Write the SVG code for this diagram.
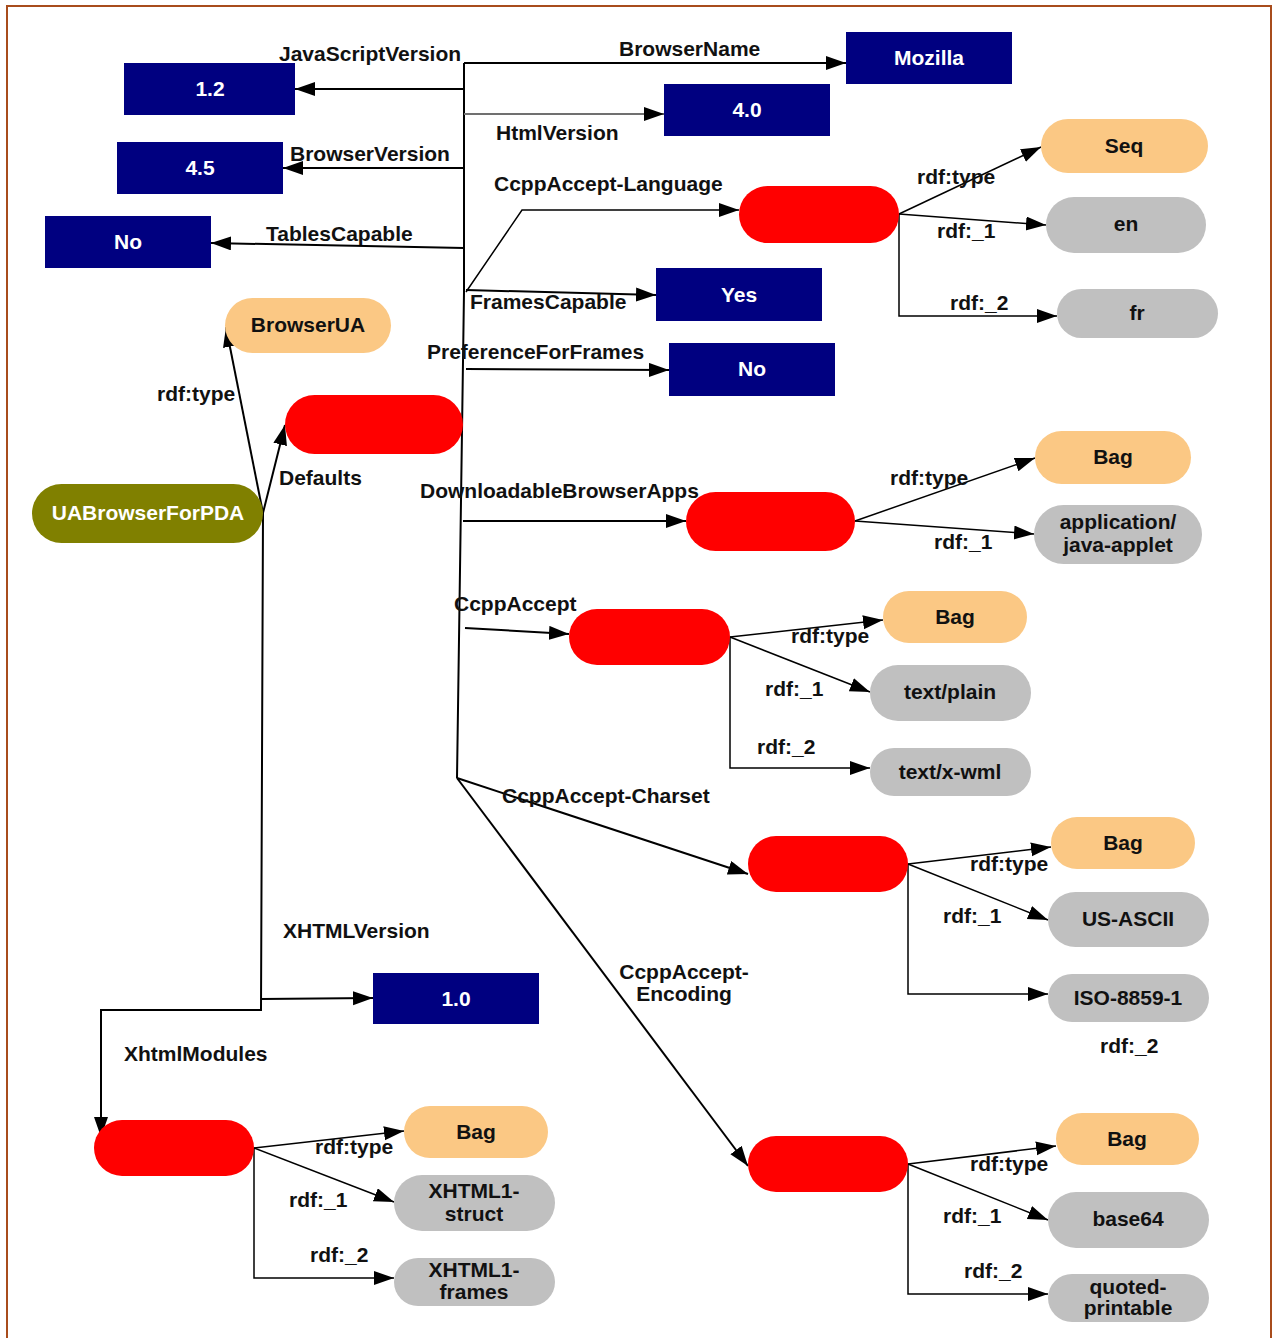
<svg xmlns="http://www.w3.org/2000/svg" width="1279" height="1338" viewBox="0 0 1279 1338">
<style>
text{font-family:"Liberation Sans",Arial,sans-serif;font-weight:bold;font-size:21px;fill:#111}
.w{fill:#fff}
.c{text-anchor:middle}
.lit rect{fill:#000080}
.blank rect{fill:#ff0000}
.typ rect{fill:#fbc884}
.val rect{fill:#c0c0c0}
.res rect{fill:#808000}
#connectors path{fill:none;stroke:#000;stroke-width:1.5}
#connectors path.t{stroke-width:2}
#connectors path.g{stroke:#707070;stroke-width:2}
</style>
<defs>
<marker id="a" markerUnits="userSpaceOnUse" markerWidth="22" markerHeight="16" refX="20" refY="7" orient="auto">
<path d="M0,0 L20,7 L0,14 z" fill="#000"/>
</marker>
</defs>
<rect x="7" y="6" width="1264" height="1345" fill="#fff" stroke="#a84c1c" stroke-width="2"/>

<g id="connectors">
<path class="t" d="M464,63 L464,292 L457,778"/>
<path class="t" d="M464,63 H846" marker-end="url(#a)"/>
<path class="t" d="M464,89 H295" marker-end="url(#a)"/>
<path class="g" d="M464,114 H664" marker-end="url(#a)"/>
<path class="t" d="M464,168 H283" marker-end="url(#a)"/>
<path class="t" d="M464,248 L211,243" marker-end="url(#a)"/>
<path d="M466,292 L522,210 H739" marker-end="url(#a)"/>
<path class="t" d="M466,290 L656,295" marker-end="url(#a)"/>
<path class="t" d="M466,369 L669,370" marker-end="url(#a)"/>
<path class="t" d="M463,521 H686" marker-end="url(#a)"/>
<path class="t" d="M465,628 L569,634" marker-end="url(#a)"/>
<path class="t" d="M457,778 L748,874" marker-end="url(#a)"/>
<path class="t" d="M457,778 L748,1166" marker-end="url(#a)"/>
<path class="t" d="M263,513 L285,425" marker-end="url(#a)"/>
<path class="t" d="M263,513 L226,327" marker-end="url(#a)"/>
<path class="t" d="M263,513 L261,1010 H101 V1137" marker-end="url(#a)"/>
<path class="t" d="M261,999 L373,998" marker-end="url(#a)"/>

<path d="M899,214 L1041,147" marker-end="url(#a)"/>
<path d="M899,214 L1046,225" marker-end="url(#a)"/>
<path d="M899,214 V316 H1057" marker-end="url(#a)"/>

<path d="M855,521 L1035,458" marker-end="url(#a)"/>
<path d="M855,521 L1034,534" marker-end="url(#a)"/>

<path d="M730,637 L883,620" marker-end="url(#a)"/>
<path d="M730,637 L870,692" marker-end="url(#a)"/>
<path d="M730,637 V768 H870" marker-end="url(#a)"/>

<path d="M908,864 L1051,847" marker-end="url(#a)"/>
<path d="M908,864 L1048,920" marker-end="url(#a)"/>
<path d="M908,864 V994 H1048" marker-end="url(#a)"/>

<path d="M908,1164 L1056,1146" marker-end="url(#a)"/>
<path d="M908,1164 L1048,1220" marker-end="url(#a)"/>
<path d="M908,1164 V1294 H1048" marker-end="url(#a)"/>

<path d="M254,1148 L404,1131" marker-end="url(#a)"/>
<path d="M254,1148 L394,1202" marker-end="url(#a)"/>
<path d="M254,1148 V1278 H394" marker-end="url(#a)"/>
</g>

<g id="edge-labels">
<text x="279" y="61">JavaScriptVersion</text>
<text x="619" y="56">BrowserName</text>
<text x="496" y="140">HtmlVersion</text>
<text x="290" y="161">BrowserVersion</text>
<text x="266" y="241">TablesCapable</text>
<text x="494" y="191">CcppAccept-Language</text>
<text x="470" y="309">FramesCapable</text>
<text x="427" y="359">PreferenceForFrames</text>
<text x="157" y="401">rdf:type</text>
<text x="279" y="485">Defaults</text>
<text x="420" y="498">DownloadableBrowserApps</text>
<text x="454" y="611">CcppAccept</text>
<text x="502" y="803">CcppAccept-Charset</text>
<text x="684" y="979" class="c">CcppAccept-</text>
<text x="684" y="1001" class="c">Encoding</text>
<text x="283" y="938">XHTMLVersion</text>
<text x="124" y="1061">XhtmlModules</text>

<text x="917" y="184">rdf:type</text>
<text x="937" y="238">rdf:_1</text>
<text x="950" y="310">rdf:_2</text>

<text x="890" y="485">rdf:type</text>
<text x="934" y="549">rdf:_1</text>

<text x="791" y="643">rdf:type</text>
<text x="765" y="696">rdf:_1</text>
<text x="757" y="754">rdf:_2</text>

<text x="970" y="871">rdf:type</text>
<text x="943" y="923">rdf:_1</text>
<text x="1100" y="1053">rdf:_2</text>

<text x="970" y="1171">rdf:type</text>
<text x="943" y="1223">rdf:_1</text>
<text x="964" y="1278">rdf:_2</text>

<text x="315" y="1154">rdf:type</text>
<text x="289" y="1207">rdf:_1</text>
<text x="310" y="1262">rdf:_2</text>
</g>

<g id="n-mozilla" class="lit"><rect x="846" y="32" width="166" height="52"/><text x="929" y="65" class="c w">Mozilla</text></g>
<g id="n-js" class="lit"><rect x="124" y="63" width="171" height="52"/><text x="210" y="96" class="c w">1.2</text></g>
<g id="n-html" class="lit"><rect x="664" y="84" width="166" height="52"/><text x="747" y="117" class="c w">4.0</text></g>
<g id="n-bv" class="lit"><rect x="117" y="142" width="166" height="52"/><text x="200" y="175" class="c w">4.5</text></g>
<g id="n-tables" class="lit"><rect x="45" y="216" width="166" height="52"/><text x="128" y="249" class="c w">No</text></g>
<g id="n-frames" class="lit"><rect x="656" y="268" width="166" height="53"/><text x="739" y="302" class="c w">Yes</text></g>
<g id="n-pff" class="lit"><rect x="669" y="343" width="166" height="53"/><text x="752" y="376" class="c w">No</text></g>
<g id="n-xv" class="lit"><rect x="373" y="973" width="166" height="51"/><text x="456" y="1006" class="c w">1.0</text></g>

<g id="n-ua" class="res"><rect x="32" y="484" width="231" height="59" rx="29.5"/><text x="148" y="520" class="c w">UABrowserForPDA</text></g>
<g id="n-browserua" class="typ"><rect x="225" y="298" width="166" height="55" rx="27.5"/><text x="308" y="332" class="c">BrowserUA</text></g>

<g id="n-defaults" class="blank"><rect x="285" y="395" width="178" height="59" rx="29.5"/></g>
<g id="n-lang" class="blank"><rect x="739" y="186" width="160" height="57" rx="28.5"/></g>
<g id="n-dba" class="blank"><rect x="686" y="492" width="169" height="59" rx="29.5"/></g>
<g id="n-accept" class="blank"><rect x="569" y="609" width="161" height="56" rx="28"/></g>
<g id="n-charset" class="blank"><rect x="748" y="836" width="160" height="56" rx="28"/></g>
<g id="n-encoding" class="blank"><rect x="748" y="1136" width="160" height="56" rx="28"/></g>
<g id="n-xmod" class="blank"><rect x="94" y="1120" width="160" height="56" rx="28"/></g>

<g id="n-seq" class="typ"><rect x="1041" y="119" width="167" height="54" rx="27"/><text x="1124" y="153" class="c">Seq</text></g>
<g id="n-en" class="val"><rect x="1046" y="197" width="160" height="56" rx="28"/><text x="1126" y="231" class="c">en</text></g>
<g id="n-fr" class="val"><rect x="1057" y="289" width="161" height="49" rx="24.5"/><text x="1137" y="320" class="c">fr</text></g>

<g id="n-bag1" class="typ"><rect x="1035" y="431" width="156" height="53" rx="26.5"/><text x="1113" y="464" class="c">Bag</text></g>
<g id="n-applet" class="val"><rect x="1034" y="505" width="168" height="59" rx="29.5"/><text x="1118" y="529" class="c">application/</text><text x="1118" y="552" class="c">java-applet</text></g>

<g id="n-bag2" class="typ"><rect x="883" y="591" width="144" height="52" rx="26"/><text x="955" y="624" class="c">Bag</text></g>
<g id="n-plain" class="val"><rect x="870" y="665" width="161" height="56" rx="28"/><text x="950" y="699" class="c">text/plain</text></g>
<g id="n-wml" class="val"><rect x="870" y="748" width="161" height="48" rx="24"/><text x="950" y="779" class="c">text/x-wml</text></g>

<g id="n-bag3" class="typ"><rect x="1051" y="817" width="144" height="52" rx="26"/><text x="1123" y="850" class="c">Bag</text></g>
<g id="n-ascii" class="val"><rect x="1048" y="892" width="161" height="55" rx="27.5"/><text x="1128" y="926" class="c">US-ASCII</text></g>
<g id="n-iso" class="val"><rect x="1048" y="974" width="161" height="48" rx="24"/><text x="1128" y="1005" class="c">ISO-8859-1</text></g>

<g id="n-bag4" class="typ"><rect x="1056" y="1113" width="143" height="52" rx="26"/><text x="1127" y="1146" class="c">Bag</text></g>
<g id="n-b64" class="val"><rect x="1048" y="1192" width="161" height="56" rx="28"/><text x="1128" y="1226" class="c">base64</text></g>
<g id="n-qp" class="val"><rect x="1048" y="1274" width="161" height="48" rx="24"/><text x="1128" y="1294" class="c">quoted-</text><text x="1128" y="1315" class="c">printable</text></g>

<g id="n-bag5" class="typ"><rect x="404" y="1106" width="144" height="52" rx="26"/><text x="476" y="1139" class="c">Bag</text></g>
<g id="n-struct" class="val"><rect x="394" y="1175" width="161" height="56" rx="28"/><text x="474" y="1198" class="c">XHTML1-</text><text x="474" y="1221" class="c">struct</text></g>
<g id="n-xframes" class="val"><rect x="394" y="1258" width="161" height="48" rx="24"/><text x="474" y="1277" class="c">XHTML1-</text><text x="474" y="1299" class="c">frames</text></g>
</svg>
